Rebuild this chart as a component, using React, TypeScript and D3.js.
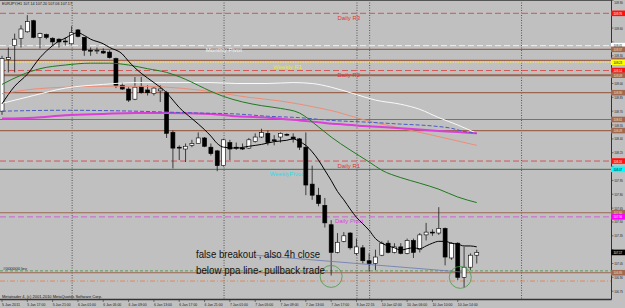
import React from 'react';
import * as d3 from 'd3';

const W = 625;
const H = 308;

// ---- candles (EURJPY H1) ----
const opens = [108.70,109.26,109.41,109.49,109.56,109.68,109.50,109.53,109.49,109.48,109.46,109.43,109.58,109.50,109.36,109.36,109.35,109.34,109.27,108.98,108.94,108.83,108.97,108.93,108.89,108.92,108.90,108.47,108.31,108.29,108.33,108.35,108.41,108.31,108.27,108.11,108.36,108.31,108.30,108.30,108.37,108.42,108.46,108.39,108.42,108.45,108.42,108.40,108.31,107.91,107.79,107.68,107.47,107.17,107.29,107.38,107.16,107.22,107.08,107.05,107.14,107.27,107.17,107.23,107.16,107.30,107.20,107.36,107.39,107.38,107.43,107.11,107.27,106.90,107.01,107.14];
const highs = [109.30,109.39,109.54,109.63,109.74,109.69,109.55,109.54,109.50,109.49,109.50,109.62,109.59,109.50,109.39,109.39,109.38,109.36,109.28,109.01,108.96,109.07,109.07,108.98,108.96,108.98,108.92,108.49,108.33,108.35,108.39,108.47,108.42,108.35,108.28,108.40,108.39,108.36,108.35,108.41,108.46,108.51,108.49,108.44,108.47,108.46,108.46,108.41,108.47,108.11,107.87,107.76,107.52,107.38,107.39,107.39,107.32,107.25,107.16,107.20,107.29,107.30,107.27,107.27,107.32,107.32,107.38,107.49,107.42,107.66,107.44,107.28,107.28,107.23,107.16,107.20];
const lows = [108.66,109.12,109.12,109.39,109.55,109.49,109.38,109.48,109.41,109.39,109.41,109.42,109.50,109.30,109.30,109.32,109.32,109.27,108.95,108.93,108.80,108.82,108.89,108.87,108.87,108.80,108.41,108.08,108.17,108.15,108.31,108.35,108.31,108.22,108.05,108.10,108.17,108.28,108.28,108.29,108.36,108.41,108.33,108.33,108.36,108.43,108.36,108.28,107.79,107.74,107.67,107.44,106.92,107.16,107.28,107.20,107.14,107.05,106.96,106.98,107.13,107.16,107.16,107.15,107.15,107.11,107.17,107.30,107.35,107.36,107.03,107.09,106.87,106.79,106.98,107.05];
const closes = [109.27,109.28,109.48,109.59,109.67,109.50,109.54,109.50,109.45,109.45,109.45,109.55,109.51,109.36,109.35,109.36,109.33,109.28,108.98,108.94,108.82,108.96,108.90,108.90,108.95,108.94,108.46,108.30,108.30,108.32,108.35,108.41,108.32,108.24,108.11,108.39,108.29,108.30,108.29,108.39,108.42,108.47,108.36,108.38,108.46,108.44,108.40,108.31,107.90,107.79,107.70,107.49,107.17,107.28,107.35,107.22,107.23,107.08,107.05,107.12,107.27,107.17,107.23,107.16,107.30,107.17,107.36,107.39,107.38,107.43,107.12,107.27,106.90,107.01,107.14,107.17];

// ---- moving averages (bar index, value) ----
const fastMaBars = [0,2,4,6,8,9,10,11,12,13,14,16,17,19,20,21,22,24,26,27,28,30,32,33,34,35,37,39,41,43,45,46,47,48,49,50,51,52,53,54,55,56,57,58,59,60,61,62,63,64,65,66,67,68,69,70,71,72,73,74,75];
const fastMaVals = [108.78,108.97,109.10,109.28,109.41,109.46,109.49,109.53,109.55,109.52,109.48,109.43,109.39,109.32,109.24,109.17,109.11,109.01,108.90,108.82,108.74,108.62,108.50,108.43,108.35,108.31,108.30,108.32,108.34,108.37,108.385,108.40,108.37,108.33,108.26,108.17,108.06,107.95,107.83,107.74,107.64,107.55,107.48,107.41,107.32,107.27,107.24,107.22,107.195,107.21,107.22,107.21,107.24,107.27,107.29,107.29,107.27,107.26,107.24,107.24,107.23];
const greenMaBars = [0,3,6,10,14,17,20,23,26,29,31,33,35,38,41,44,47,50,52,55,58,60,63,66,69,72,75];
const greenMaVals = [108.99,109.09,109.16,109.20,109.22,109.22,109.20,109.16,109.12,109.045,108.98,108.915,108.86,108.80,108.76,108.73,108.68,108.53,108.42,108.28,108.15,108.06,107.98,107.92,107.855,107.77,107.71];
const whiteMaBars = [0,5,10,16,21,26,33,37,42,46,49,52,56,59,63,66,69,72,75];
const whiteMaVals = [108.785,108.87,108.95,108.99,109.01,109.01,109.01,109.00,109.00,109.01,109.00,108.96,108.88,108.82,108.775,108.72,108.63,108.55,108.46];
const salmonMaBars = [0,5,10,16,21,26,31,35,39,44,49,53,57,60,63,68,75];
const salmonMaVals = [108.89,108.94,108.96,108.97,108.97,108.96,108.93,108.89,108.85,108.81,108.75,108.69,108.61,108.56,108.515,108.44,108.33];
const blueMaBars = [0,10,21,31,37,42,47,52,58,63,68,71,73,75];
const blueMaVals = [108.70,108.71,108.70,108.68,108.67,108.645,108.63,108.60,108.58,108.56,108.54,108.515,108.48,108.46];
const magentaMaBars = [0,5,10,16,21,26,33,37,42,47,50,53,57,63,68,73,75];
const magentaMaVals = [108.62,108.63,108.655,108.67,108.68,108.68,108.67,108.645,108.63,108.60,108.58,108.56,108.54,108.515,108.49,108.47,108.46];

// ---- horizontal levels ----
const levelPrices = [109.76,109.41,109.37,109.25,109.23,109.14,109.09,108.90,108.61,108.49,108.16,108.07,107.60,107.555,106.97,106.95,106.86];
const levelKinds = ['dailyR','monthly','brown','brown','weeklyR1','dailyR','brownThick','brown','brown','brown','dailyR','weeklyPivot','brown','dailyPivot','green','brown','orange'];
const levelNames = ['Daily R3','Monthly Pivot','','','Weekly R1','Daily R2','','','','','Daily R1','WeeklyPivot','','Daily Pivot','','',''];
const levelNameBars = [53,32.2,0,0,42.8,53,0,0,0,0,53,42.3,0,52.6,0,0,0];
// price tags whose text is hidden under a neighbouring tag in the original
const levelTagTextShown = [true,true,true,false,true,true,true,true,true,true,true,true,true,true,true,true,true];

const currentPrice = 107.17;

// ---- axes ----
const priceTicks = [109.90,109.75,109.60,109.45,109.30,109.15,109.00,108.85,108.70,108.55,108.40,108.25,108.10,107.95,107.80,107.65,107.50,107.35,107.20,107.05,106.90,106.75];
const timeLabelBars = [0,4,8,12,16,20,24,28,32,36,40,44,48,52,56,60,64,68,72];
const timeLabels = ['5 Jan 2011','5 Jan 17:00','5 Jan 21:00','6 Jan 01:00','6 Jan 05:00','6 Jan 09:00','6 Jan 13:00','6 Jan 17:00','6 Jan 21:00','7 Jan 01:00','7 Jan 05:00','7 Jan 09:00','7 Jan 13:00','7 Jan 17:00','9 Jan 22:15','10 Jan 02:00','10 Jan 06:00','10 Jan 10:00','10 Jan 14:00'];
const separatorBars = [11,35,56,58,82];

// ---- annotations ----
const trendBars = [40, 72.7];
const trendPrices = [107.14, 106.957];
const circleBars = [52, 72.4];
const circlePrices = [106.91, 106.90];
const noteLines = ['false breakout , also 4h close', 'below ppa line- pullback trade'];
const noteBar = 30.65;
const notePrices = [107.108, 106.935];

const BG = '#c0c0c0';
const PLOT_R = 611;
const AXIS_B = 299.5;

const levelStyle: Record<string, { stroke: string; width: number; dash?: string }> = {
  dailyR: { stroke: '#d65454', width: 1, dash: '6,3' },
  monthly: { stroke: '#f0f0f0', width: 1, dash: '6,3' },
  brown: { stroke: '#9a6650', width: 1.2 },
  brownThick: { stroke: '#9a6650', width: 2 },
  weeklyR1: { stroke: '#e6d890', width: 1.5, dash: '1.5,1' },
  weeklyPivot: { stroke: '#3d6e55', width: 1 },
  dailyPivot: { stroke: '#d060d0', width: 1, dash: '6,3' },
  green: { stroke: '#5a9a5a', width: 1, dash: '3,2' },
  orange: { stroke: '#e08a5a', width: 1, dash: '5,2,1,2' },
};
const tagStyle: Record<string, { fill: string; text: string } | null> = {
  dailyR: { fill: '#ff1010', text: '#ffffff' },
  monthly: { fill: '#ffffff', text: '#000000' },
  brown: { fill: '#a0694f', text: '#f0e0d0' },
  brownThick: { fill: '#a0694f', text: '#f0e0d0' },
  weeklyR1: { fill: '#ffff00', text: '#000000' },
  weeklyPivot: { fill: '#00ffff', text: '#000000' },
  dailyPivot: { fill: '#ff00ff', text: '#ffffff' },
  green: null,
  orange: null,
};
const nameColor: Record<string, string> = {
  dailyR: '#e03434',
  monthly: '#f4f4f4',
  weeklyR1: '#e8e830',
  weeklyPivot: '#30d8e8',
  dailyPivot: '#e040e0',
};

function AxisText({ x0, y0, fill, children }: { x0: number; y0: number; fill: string; children: string }) {
  // narrow tiny label drawn with a horizontal squeeze so it stays inside the window
  return (
    <text transform={`translate(${x0},${y0}) scale(0.68,1)`} fontSize={4.2} fill={fill}>
      {children}
    </text>
  );
}

export default function App() {
  const x = d3.scaleLinear().domain([0, 75]).range([2, 2 + 75 * 6.33]);
  const y = d3.scaleLinear().domain([106.75, 109.9]).range([291.2, 0.4]);

  const mkLine = (bars: number[], vals: number[]) =>
    d3.line<number>().x((_, i) => x(bars[i])).y((v) => y(v)).curve(d3.curveMonotoneX)(vals) || '';

  const bodyW = 4;

  const tagYs = levelPrices
    .filter((_, i) => tagStyle[levelKinds[i]])
    .map((p) => y(p))
    .concat([y(currentPrice)]);

  return (
    <svg width={W} height={H} style={{ position: 'fixed', left: 0, top: 0, background: BG }} fontFamily="Liberation Sans, Arial, sans-serif">
      <defs>
        <clipPath id="plot"><rect x={0} y={0} width={PLOT_R} height={AXIS_B} /></clipPath>
      </defs>
      <rect x={0} y={0} width={W} height={H} fill={BG} />
      <g clipPath="url(#plot)">
        {separatorBars.map((b, i) => (
          <line key={'s' + i} x1={x(b) + 0.5} x2={x(b) + 0.5} y1={0} y2={AXIS_B} stroke="#3a3a3a" strokeWidth={0.8} strokeDasharray="1,1.5" />
        ))}
        {levelPrices.map((p, i) => {
          const s = levelStyle[levelKinds[i]];
          return <line key={'l' + i} x1={0} x2={PLOT_R} y1={y(p)} y2={y(p)} stroke={s.stroke} strokeWidth={s.width} strokeDasharray={s.dash} />;
        })}
        {levelNames.map((n, i) =>
          n ? (
            <text key={'n' + i} x={x(levelNameBars[i])} y={y(levelPrices[i]) + 6.5} fontSize={6} fill={nameColor[levelKinds[i]]}>
              {n}
            </text>
          ) : null
        )}
        <text x={3} y={y(106.97) - 1} fontSize={3.8} fill="#222" textLength={24} lengthAdjust="spacingAndGlyphs">#000000 lev</text>
        {opens.map((o, i) => {
          const c = closes[i];
          const cx = x(i);
          const top = y(Math.max(o, c));
          const bot = y(Math.min(o, c));
          const bull = c >= o;
          return (
            <g key={'c' + i}>
              <line x1={cx} x2={cx} y1={y(highs[i])} y2={y(lows[i])} stroke="#1a1a1a" strokeWidth={0.8} />
              <rect
                x={cx - bodyW / 2}
                y={top}
                width={bodyW}
                height={Math.max(bot - top, 0.8)}
                fill={bull ? '#ffffff' : '#000000'}
                stroke="#000"
                strokeWidth={0.6}
              />
            </g>
          );
        })}
        <path d={mkLine(salmonMaBars, salmonMaVals)} fill="none" stroke="#ec8e78" strokeWidth={1} />
        <path d={mkLine(whiteMaBars, whiteMaVals)} fill="none" stroke="#fafafa" strokeWidth={1} />
        <path d={mkLine(magentaMaBars, magentaMaVals)} fill="none" stroke="#dc3ed8" strokeWidth={2} />
        <path d={mkLine(blueMaBars, blueMaVals)} fill="none" stroke="#4a5ac0" strokeWidth={1} strokeDasharray="4,2" />
        <path d={mkLine(greenMaBars, greenMaVals)} fill="none" stroke="#1e7a1e" strokeWidth={1} />
        <path d={mkLine(fastMaBars, fastMaVals)} fill="none" stroke="#000000" strokeWidth={1} />
        <line x1={x(trendBars[0])} y1={y(trendPrices[0])} x2={x(trendBars[1])} y2={y(trendPrices[1])} stroke="#6878b0" strokeWidth={0.8} />
        {circleBars.map((b, i) => (
          <circle key={'o' + i} cx={x(b)} cy={y(circlePrices[i])} r={11} fill="none" stroke="#4a9a4a" strokeWidth={0.8} />
        ))}
        {noteLines.map((t, i) => (
          <text key={'t' + i} x={x(noteBar)} y={y(notePrices[i])} fontSize={10.5} fill="#111" textLength={i === 0 ? 124 : 129} lengthAdjust="spacingAndGlyphs">
            {t}
          </text>
        ))}
        <text x={2} y={5} fontSize={4} fill="#111" textLength={70} lengthAdjust="spacingAndGlyphs">EURJPY,H1  107.14 107.20 107.06 107.17</text>
        <text x={2} y={297.5} fontSize={4} fill="#111" textLength={100} lengthAdjust="spacingAndGlyphs">Metatrader 4, (c) 2001-2010 MetaQuotes Software Corp.</text>
      </g>
      <line x1={0} x2={PLOT_R} y1={0.5} y2={0.5} stroke="#555" strokeWidth={1} />
      <line x1={0} x2={PLOT_R + 0.5} y1={AXIS_B} y2={AXIS_B} stroke="#333" strokeWidth={1.5} />
      <line x1={PLOT_R + 0.5} x2={PLOT_R + 0.5} y1={0} y2={AXIS_B} stroke="#333" strokeWidth={1} />
      {priceTicks.map((p, i) => {
        const ty = Math.max(y(p), 2.4);
        const hidden = tagYs.some((t) => Math.abs(t - y(p)) < 4.5);
        return (
          <g key={'p' + i}>
            <line x1={PLOT_R} x2={PLOT_R + 2.5} y1={y(p)} y2={y(p)} stroke="#333" strokeWidth={0.6} />
            {hidden ? null : <AxisText x0={PLOT_R + 3.2} y0={ty + 1.5} fill="#222">{p.toFixed(2)}</AxisText>}
          </g>
        );
      })}
      {levelPrices.map((p, i) => {
        const t = tagStyle[levelKinds[i]];
        if (!t) return null;
        return (
          <g key={'g' + i}>
            <rect x={PLOT_R} y={y(p) - 2.8} width={W - PLOT_R} height={5.6} fill={t.fill} />
            {levelTagTextShown[i] ? <AxisText x0={PLOT_R + 2.5} y0={y(p) + 1.5} fill={t.text}>{p.toFixed(2)}</AxisText> : null}
          </g>
        );
      })}
      <rect x={PLOT_R} y={y(currentPrice) - 2.8} width={W - PLOT_R} height={5.6} fill="#000" />
      <AxisText x0={PLOT_R + 2.5} y0={y(currentPrice) + 1.5} fill="#fff">{currentPrice.toFixed(2)}</AxisText>
      {timeLabelBars.map((b, i) => (
        <g key={'x' + i}>
          <line x1={x(b)} x2={x(b)} y1={AXIS_B} y2={AXIS_B + 2.5} stroke="#333" strokeWidth={0.6} />
          <text x={x(b)} y={306} fontSize={4.2} fill="#222" textLength={timeLabels[i].length > 11 ? 20 : 18} lengthAdjust="spacingAndGlyphs">
            {timeLabels[i]}
          </text>
        </g>
      ))}
    </svg>
  );
}
